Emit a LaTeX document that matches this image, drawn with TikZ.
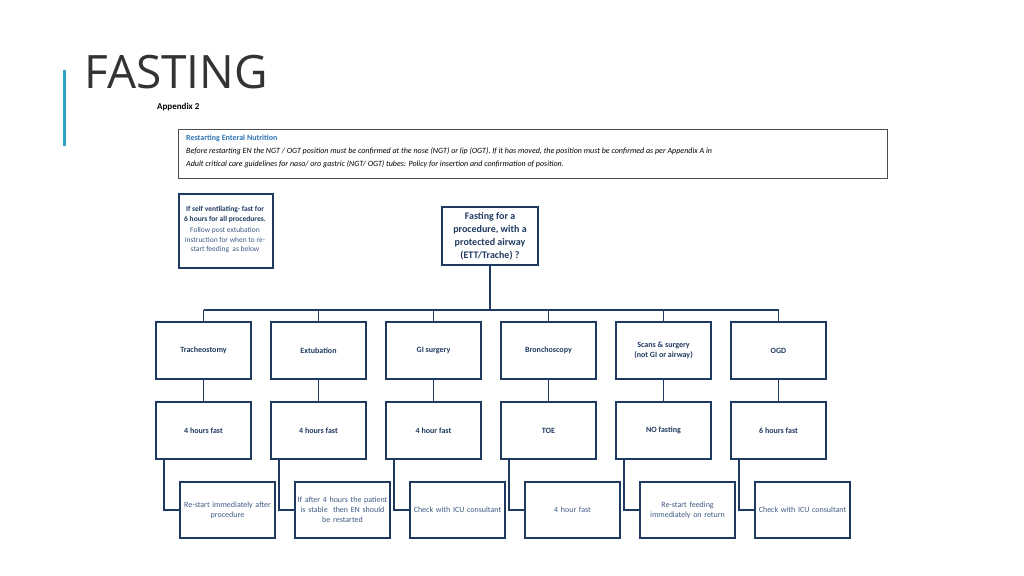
\documentclass[tikz,border=0pt]{standalone}
\usepackage{fontspec}
\setmainfont{Carlito}
\newfontfamily\titlefont{Open Sans}
\definecolor{navy}{HTML}{1F3A60}
\definecolor{soft}{HTML}{3F5A85}
\definecolor{cyanbar}{HTML}{2BA3C4}
\definecolor{hblue}{HTML}{2E75B6}
\begin{document}
\begin{tikzpicture}[x=1pt,y=-1pt,
  box/.style={draw=navy,line width=1.6pt,minimum width=95pt,minimum height=57pt,inner sep=1pt,align=center,font=\fontsize{8}{9.5}\selectfont\bfseries,text=navy},
  sbox/.style={draw=navy,line width=1.6pt,minimum width=95pt,minimum height=56pt,inner sep=1pt,align=center,text width=93pt,font=\fontsize{8}{10}\selectfont,text=soft},
  conn/.style={draw=navy,line width=1.6pt}]
\useasboundingbox (0,0) rectangle (1024,575);
\fill[cyanbar] (63,70) rectangle (65.5,146);
\node[anchor=west,inner sep=0,text=black!80] (title) at (84,72) {\titlefont\fontsize{46}{46}\selectfont FASTING};
\node[anchor=west,inner sep=0] (app) at (157,107) {\fontsize{9}{10}\selectfont\bfseries Appendix 2};
\node[draw=black!70,line width=0.8pt,minimum width=709pt,minimum height=49pt,anchor=north west,inner sep=0] (top) at (178,129) {};
\node[anchor=north west,inner sep=0,align=left,font=\fontsize{8}{13}\selectfont] (toptext) at (186,135)
 {\textcolor{hblue}{\bfseries Restarting Enteral Nutrition}\\
 \itshape Before restarting EN the NGT / OGT position must be confirmed at the nose (NGT) or lip (OGT). If it has moved, the position must be confirmed as per Appendix A in\\
 \itshape Adult critical care guidelines for naso/ oro gastric (NGT/ OGT) tubes: Policy for insertion and confirmation of position.};
\node[draw=navy,line width=1.6pt,minimum width=94pt,minimum height=74pt,anchor=north west,inner sep=0] (self) at (178,193) {};
\node[align=center,inner sep=0,font=\fontsize{7.5}{9.5}\selectfont] (selft) at (225,230)
 {\textcolor{navy}{\bfseries If self ventilating- fast for}\\ \textcolor{navy}{\bfseries 6 hours for all procedures.}\\[2pt]
 \textcolor{soft}{Follow post extubation}\\ \textcolor{soft}{instruction for when to re-}\\ \textcolor{soft}{start feeding\ \ as below}};
\node[box,minimum width=96pt,minimum height=58pt,font=\fontsize{10}{13}\selectfont\bfseries] (main) at (490,236)
 {Fasting for a\\procedure, with a\\protected airway\\(ETT/Trache) ?};
\coordinate (hub) at (490,310);
\draw[conn] (main.south) -- (hub);
\foreach \i/\a/\b/\c in {1/Tracheostomy/4 hours fast/Re-start immediately after\\procedure,
 2/Extubation/4 hours fast/If after 4 hours the patient\\is stable\ \ then EN should\\be restarted,
 3/GI surgery/4 hour fast/Check with ICU consultant\\/ surgical team when to\\re-start enteral feeding,
 4/Bronchoscopy/ TOE/4 hour fast/Re-start immediately after\\procedure,
 5/{Scans \& surgery\\(not GI or airway)}/NO fasting/Re-start feeding\\immediately on return,
 6/OGD/6 hours fast/Check with ICU consultant\\/ gastro before restarting\\feeding}{
  \pgfmathsetmacro{\xx}{203.5+115*(\i-1)}
  \node[box] (a\i) at (\xx,350.5) {\a};
  \node[box] (b\i) at (\xx,430.5) {\b};
  \node[sbox] (c\i) at (\xx+24,510) {\c};
  \coordinate (k\i) at (\xx,310);
  \draw[conn] (k\i) -- (a\i.north);
  \draw[conn] (a\i.south) -- (b\i.north);
  \draw[conn] ([xshift=9pt]b\i.south west) |- (c\i.west);
}
\draw[conn] (k1) -- (k6);
\end{tikzpicture}
\end{document}
